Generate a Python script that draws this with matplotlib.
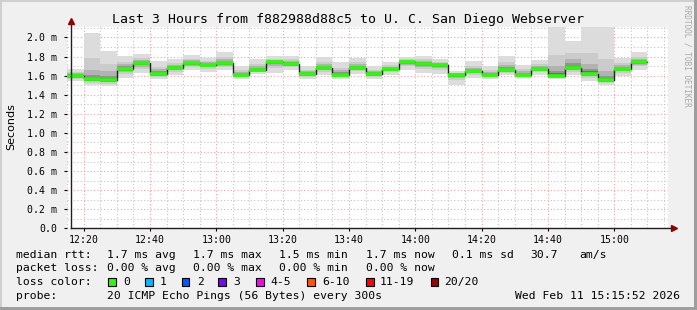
import matplotlib
matplotlib.use("Agg")
import matplotlib.pyplot as plt
from matplotlib.patches import Rectangle
import numpy as np

W, H = 697, 310

# 5-minute steps (start time of each step)
step_times = ["12:15", "12:20", "12:25", "12:30", "12:35", "12:40", "12:45",
              "12:50", "12:55", "13:00", "13:05", "13:10", "13:15", "13:20",
              "13:25", "13:30", "13:35", "13:40", "13:45", "13:50", "13:55",
              "14:00", "14:05", "14:10", "14:15", "14:20", "14:25", "14:30",
              "14:35", "14:40", "14:45", "14:50", "14:55", "15:00", "15:05"]

# median rtt in ms
median = [1.60, 1.56, 1.55, 1.67, 1.73, 1.62, 1.68, 1.73, 1.71, 1.73, 1.61, 1.66,
          1.74, 1.72, 1.62, 1.68, 1.61, 1.68, 1.62, 1.67, 1.74, 1.72, 1.71, 1.61,
          1.65, 1.61, 1.66, 1.61, 1.67, 1.60, 1.68, 1.62, 1.55, 1.67, 1.74]
# max / min ping of each step (smoke extent), ms
ping_hi = [1.67, 2.05, 1.86, 1.81, 1.83, 1.75, 1.77, 1.82, 1.79, 1.85, 1.70, 1.77,
           1.81, 1.81, 1.70, 1.80, 1.74, 1.79, 1.70, 1.74, 1.80, 1.81, 1.77, 1.65,
           1.75, 1.70, 1.81, 1.71, 1.76, 2.30, 1.96, 2.30, 2.30, 1.78, 1.85]
ping_lo = [1.54, 1.50, 1.49, 1.58, 1.63, 1.56, 1.61, 1.66, 1.64, 1.66, 1.56, 1.62,
           1.63, 1.66, 1.56, 1.61, 1.57, 1.62, 1.56, 1.61, 1.66, 1.63, 1.62, 1.50,
           1.58, 1.56, 1.61, 1.58, 1.61, 1.57, 1.61, 1.54, 1.50, 1.60, 1.66]

x_tick_labels = ["12:20", "12:40", "13:00", "13:20", "13:40", "14:00", "14:20", "14:40", "15:00"]

loss_labels = ["0", "1", "2", "3", "4-5", "6-10", "11-19", "20/20"]
loss_colors = ["#26ff00", "#00b8ff", "#0059ff", "#7e00ff", "#ff00ff", "#ff5500", "#ff0000", "#a10000"]


def to_min(t):
    h, m = t.split(":")
    return (int(h) - 12) * 60 + int(m)


def px(x, y):
    return x / W, 1 - y / H


MONO = "DejaVu Sans Mono"

x0 = np.array([to_min(t) for t in step_times], float)
edges = np.append(x0, x0[-1] + 5)
med = np.array(median)
hi = np.array(ping_hi)
lo = np.array(ping_lo)

fig = plt.figure(figsize=(W / 100, H / 100), dpi=100, facecolor="#f0f0f0")

# border shading
fig.add_artist(Rectangle((0, 1 - 2 / H), 1, 2 / H, transform=fig.transFigure, color="#cfcfcf", lw=0))
fig.add_artist(Rectangle((0, 0), 2 / W, 1, transform=fig.transFigure, color="#cfcfcf", lw=0))
fig.add_artist(Rectangle((0, 0), 1, 3 / H, transform=fig.transFigure, color="#9e9e9e", lw=0))
fig.add_artist(Rectangle((1 - 3 / W, 0), 3 / W, 1, transform=fig.transFigure, color="#9e9e9e", lw=0))

left, right, top, bottom = 67, 668, 27, 228.3
ax = fig.add_axes([left / W, 1 - bottom / H, (right - left) / W, (bottom - top) / H])
ax.set_facecolor("white")
ax.set_xlim(16.2, 196.2)
ax.set_ylim(0, 2.11)

# smoke layers (outer light -> inner dark)
layers = [(1.0, 9.0, "#dcdcdc"), (0.55, 0.22, "#cbcbcb"), (0.35, 0.10, "#b2b2b2"),
          (0.2, 0.05, "#939393"), (0.1, 0.025, "#6e6e6e")]
for f, cap, col in layers:
    up = med + np.minimum(f * (hi - med), cap)
    dn = med - np.minimum(f * (med - lo), cap)
    ax.fill_between(edges, np.append(dn, dn[-1]), np.append(up, up[-1]),
                    step="post", color=col, lw=0, zorder=2)

# median line + loss colour band
ax.step(edges, np.append(med, med[-1]), where="post", color="#202020", lw=1.0, zorder=3)
ax.hlines(med, edges[:-1], edges[1:], color=loss_colors[0], lw=2.6, zorder=4)

# grid
ax.set_xticks([to_min(t) for t in x_tick_labels])
ax.set_xticklabels(x_tick_labels)
ax.set_xticks(np.arange(15, 200, 5), minor=True)
ax.set_yticks(np.arange(0, 2.01, 0.2))
ax.set_yticklabels(["0.0"] + ["%.1f m" % v for v in np.arange(0.2, 2.01, 0.2)])
ax.set_yticks(np.arange(0, 2.11, 0.1), minor=True)
ax.set_axisbelow(True)
ax.grid(which="major", color="#f2a0a0", ls=(0, (1, 2)), lw=0.8)
ax.grid(which="minor", color="#c4c4c4", ls=(0, (1, 2)), lw=0.8)
ax.tick_params(which="minor", length=0)
ax.tick_params(which="major", length=2, width=0.8, labelsize=7.1)
ax.tick_params(axis="y", pad=5)
ax.tick_params(axis="x", pad=3)
for lab in ax.get_xticklabels() + ax.get_yticklabels():
    lab.set_family(MONO)

for s in ["top", "right", "left", "bottom"]:
    ax.spines[s].set_visible(False)

# axes with arrows
ax.plot([16.2, 16.2], [0, 2.16], color="#202020", lw=1, clip_on=False, zorder=5)
ax.plot([16.2, 197.6], [0, 0], color="#202020", lw=1, clip_on=False, zorder=5)
ax.plot([16.2], [2.17], marker="^", ms=4, color="#900000", clip_on=False, zorder=6)
ax.plot([197.9], [0], marker=">", ms=4, color="#900000", clip_on=False, zorder=6)

# title and labels
fig.text(*px(348, 19), "Last 3 Hours from f882988d88c5 to U. C. San Diego Webserver",
         ha="center", va="center", family=MONO, size=9.5)
fig.text(*px(11, 127), "Seconds", rotation=90, ha="center", va="center", family="DejaVu Sans", size=8)
fig.text(*px(687, 5), "RRDTOOL / TOBI OETIKER", rotation=-90, ha="center", va="top",
         family=MONO, size=5.6, color="#a8a8a8")

# legend
ts = dict(va="center", ha="left", family=MONO, size=8.2)
rows = [
    (254.7, [(16, "median rtt:"), (107.3, "1.7 ms avg"), (193.3, "1.7 ms max"),
             (279.3, "1.5 ms min"), (365.7, "1.7 ms now"), (451.7, "0.1 ms sd"),
             (530, "30.7"), (579.3, "am/s")]),
    (268, [(16, "packet loss:"), (107.3, "0.00 % avg"), (193.3, "0.00 % max"),
           (279.3, "0.00 % min"), (365.7, "0.00 % now")]),
    (282, [(16, "loss color:")]),
    (296, [(16, "probe:"), (107.3, "20 ICMP Echo Pings (56 Bytes) every 300s")]),
]
for y, items in rows:
    for x, s in items:
        fig.text(*px(x, y), s, **ts)
fig.text(*px(680, 296), "Wed Feb 11 15:15:52 2026", va="center", ha="right", family=MONO, size=8.2)

box_x = [108.3, 145, 181.7, 218.3, 256, 307.3, 366, 430.7]
text_x = [123.3, 160, 196.7, 233, 270, 322.3, 380, 444]
for bx, tx, lab, col in zip(box_x, text_x, loss_labels, loss_colors):
    fx, fy = px(bx, 285.5)
    fig.add_artist(Rectangle((fx, fy), 7.5 / W, 7.5 / H, transform=fig.transFigure,
                             facecolor=col, edgecolor="black", lw=0.8))
    fig.text(*px(tx, 282), lab, **ts)

fig.savefig("out.png", dpi=100, facecolor=fig.get_facecolor())
